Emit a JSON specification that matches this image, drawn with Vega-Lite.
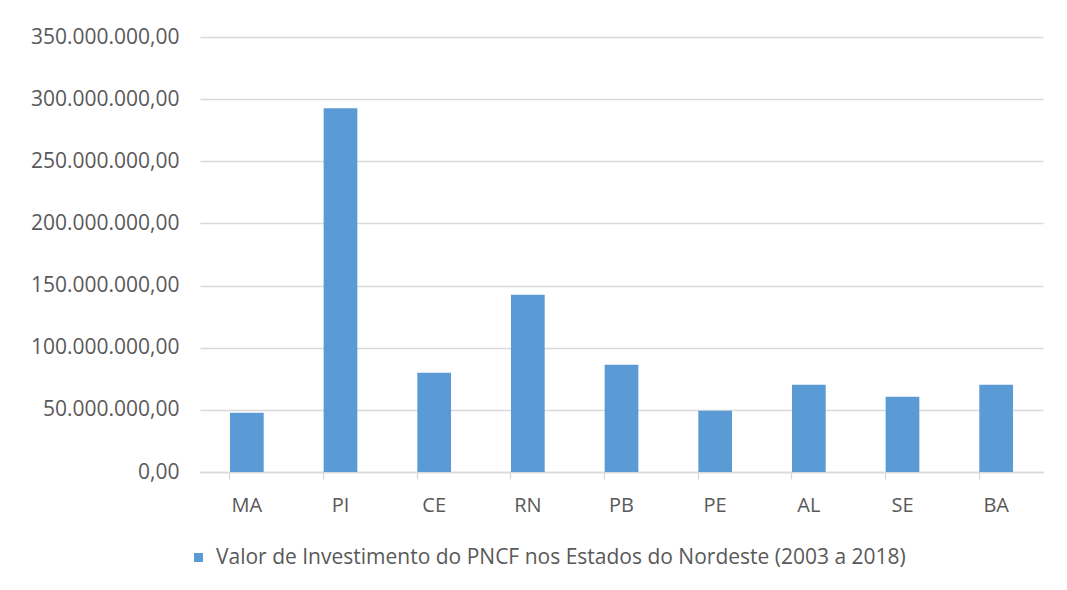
{
  "$schema": "https://vega.github.io/schema/vega-lite/v6.json",
  "width": 843,
  "height": 435,
  "autosize": {"type": "none"},
  "padding": {"left": 200, "top": 37, "right": 24, "bottom": 118},
  "background": "white",
  "data": {
    "values": [
      {"estado": "MA", "valor": 47600000, "serie": "Valor de Investimento do PNCF nos Estados do Nordeste (2003 a 2018)"},
      {"estado": "PI", "valor": 292700000, "serie": "Valor de Investimento do PNCF nos Estados do Nordeste (2003 a 2018)"},
      {"estado": "CE", "valor": 79800000, "serie": "Valor de Investimento do PNCF nos Estados do Nordeste (2003 a 2018)"},
      {"estado": "RN", "valor": 142700000, "serie": "Valor de Investimento do PNCF nos Estados do Nordeste (2003 a 2018)"},
      {"estado": "PB", "valor": 86300000, "serie": "Valor de Investimento do PNCF nos Estados do Nordeste (2003 a 2018)"},
      {"estado": "PE", "valor": 49200000, "serie": "Valor de Investimento do PNCF nos Estados do Nordeste (2003 a 2018)"},
      {"estado": "AL", "valor": 70200000, "serie": "Valor de Investimento do PNCF nos Estados do Nordeste (2003 a 2018)"},
      {"estado": "SE", "valor": 60500000, "serie": "Valor de Investimento do PNCF nos Estados do Nordeste (2003 a 2018)"},
      {"estado": "BA", "valor": 70200000, "serie": "Valor de Investimento do PNCF nos Estados do Nordeste (2003 a 2018)"}
    ]
  },
  "mark": {"type": "bar"},
  "encoding": {
    "x": {
      "field": "estado",
      "type": "nominal",
      "sort": null,
      "scale": {"paddingInner": 0.64, "paddingOuter": 0.32},
      "axis": {
        "title": null,
        "labelAngle": 0,
        "labelFont": "Open Sans",
        "labelFontSize": 20,
        "labelColor": "#595959",
        "labelPadding": 16,
        "bandPosition": 0,
        "ticks": true,
        "tickColor": "#d9d9d9",
        "tickWidth": 1.3,
        "tickSize": 7,
        "domainColor": "#d9d9d9",
        "domainWidth": 1.3,
        "grid": false
      }
    },
    "y": {
      "field": "valor",
      "type": "quantitative",
      "scale": {"domain": [0, 350000000], "nice": false},
      "axis": {
        "title": null,
        "values": [0, 50000000, 100000000, 150000000, 200000000, 250000000, 300000000, 350000000],
        "format": ",.2f",
        "labelFont": "Open Sans",
        "labelFontSize": 21,
        "labelColor": "#595959",
        "labelPadding": 21,
        "domain": false,
        "ticks": false,
        "grid": true,
        "gridColor": "#d9d9d9",
        "gridWidth": 1.3
      }
    },
    "color": {
      "field": "serie",
      "type": "nominal",
      "scale": {"range": ["#5b9bd5"]},
      "legend": {
        "title": null,
        "orient": "none",
        "legendX": -12,
        "legendY": 510,
        "symbolType": "square",
        "symbolSize": 81,
        "labelOffset": 7,
        "labelFont": "Open Sans",
        "labelFontSize": 21,
        "labelColor": "#595959",
        "labelLimit": 900
      }
    }
  },
  "config": {
    "view": {"stroke": null},
    "locale": {
      "number": {"decimal": ",", "thousands": ".", "grouping": [3], "currency": ["R$", ""]}
    }
  }
}
